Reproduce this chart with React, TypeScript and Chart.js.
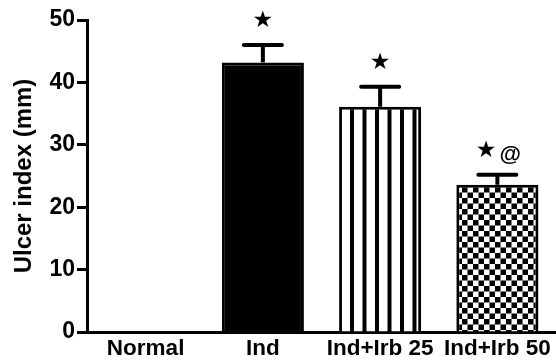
import React, { useEffect, useRef } from "react";
import { Chart, registerables } from "chart.js";

Chart.register(...registerables);

const categories = ["Normal", "Ind", "Ind+Irb 25", "Ind+Irb 50"];
const means = [0, 43.2, 36.1, 23.6];
const sems = [0, 2.8, 3.2, 1.6];
const starMarks = ["", "★", "★", "★"];
const extraMarks = ["", "", "", "@"];
const yTicks = [0, 10, 20, 30, 40, 50];
const yTitle = "Ulcer index (mm)";

const FONT = "'Liberation Sans', Arial, sans-serif";

function stripePattern(): CanvasPattern | string {
  const c = document.createElement("canvas");
  c.width = 25;
  c.height = 10;
  const g = c.getContext("2d")!;
  g.fillStyle = "#fff";
  g.fillRect(0, 0, 25, 10);
  g.fillStyle = "#000";
  g.fillRect(0, 0, 4, 10);
  g.fillRect(12.5, 0, 4, 10);
  const ctx = document.createElement("canvas").getContext("2d")!;
  return ctx.createPattern(c, "repeat") || "#fff";
}

function checkerPattern(): CanvasPattern | string {
  const s = 5.5;
  const c = document.createElement("canvas");
  c.width = 11;
  c.height = 11;
  const g = c.getContext("2d")!;
  g.fillStyle = "#fff";
  g.fillRect(0, 0, 11, 11);
  g.fillStyle = "#000";
  g.fillRect(0, 0, s, s);
  g.fillRect(s, s, s, s);
  const ctx = document.createElement("canvas").getContext("2d")!;
  return ctx.createPattern(c, "repeat") || "#fff";
}

const errorBarPlugin = {
  id: "errorBars",
  afterDatasetsDraw(chart: any) {
    const ctx = chart.ctx;
    const meta = chart.getDatasetMeta(0);
    const y = chart.scales.y;
    ctx.save();
    meta.data.forEach((bar: any, i: number) => {
      const x = bar.x;
      const yBar = y.getPixelForValue(means[i]);
      const yTop = y.getPixelForValue(means[i] + sems[i]);
      if (sems[i] > 0) {
        ctx.strokeStyle = "#000";
        ctx.lineWidth = 4;
        ctx.lineCap = "butt";
        ctx.beginPath();
        ctx.moveTo(x, yBar);
        ctx.lineTo(x, yTop);
        ctx.stroke();
        ctx.lineCap = "round";
        ctx.beginPath();
        ctx.moveTo(x - 19, yTop);
        ctx.lineTo(x + 19, yTop);
        ctx.stroke();
      }
      const star = starMarks[i];
      const extra = extraMarks[i];
      if (star || extra) {
        ctx.textBaseline = "alphabetic";
        ctx.textAlign = "left";
        ctx.font = "23px 'DejaVu Sans'";
        const sw = ctx.measureText(star).width;
        ctx.font = `bold 22px ${FONT}`;
        const ew = extra ? ctx.measureText(extra).width + 3 : 0;
        const total = sw + ew;
        const sx = x - total / 2 + (extra ? 1 : 0);
        const base = yTop - 18;
        ctx.fillStyle = "#000";
        ctx.font = "23px 'DejaVu Sans'";
        ctx.fillText(star, sx, base);
        if (extra) {
          ctx.font = `bold 22px ${FONT}`;
          ctx.fillText(extra, sx + sw + 3, base + 4);
        }
      }
    });
    ctx.restore();
  },
};

export default function App() {
  const ref = useRef<HTMLCanvasElement | null>(null);

  useEffect(() => {
    if (!ref.current) return;
    const bg = ["#fff", "#000", stripePattern(), checkerPattern()];
    const chart = new Chart(ref.current, {
      type: "bar",
      data: {
        labels: categories,
        datasets: [
          {
            data: means,
            backgroundColor: bg as any,
            borderColor: "#000",
            borderWidth: 3,
            borderSkipped: "start",
            categoryPercentage: 1,
            barPercentage: 0.7,
          },
        ],
      },
      options: {
        animation: false,
        responsive: false,
        devicePixelRatio: 1,
        layout: { padding: { top: 20, right: 0, left: 0, bottom: 0 } },
        plugins: {
          legend: { display: false },
          tooltip: { enabled: false },
        },
        scales: {
          x: {
            grid: { display: true, drawOnChartArea: false, drawTicks: false },
            border: { display: true, color: "#000", width: 3 },
            ticks: {
              color: "#000",
              font: { family: FONT, size: 22.5, weight: "bold" },
              padding: 3,
              maxRotation: 0,
              autoSkip: false,
            },
            afterFit(scale: any) {
              scale.height = 28;
            },
          },
          y: {
            min: 0,
            max: 50,
            afterBuildTicks(scale: any) {
              scale.ticks = yTicks.map((v) => ({ value: v }));
            },
            grid: {
              drawOnChartArea: false,
              drawTicks: true,
              tickLength: 10,
              tickWidth: 3,
              tickColor: "#000",
            },
            border: { display: true, color: "#000", width: 3 },
            ticks: {
              color: "#000",
              font: { family: FONT, size: 23, weight: "bold" },
              padding: 2,
            },
            title: {
              display: true,
              text: yTitle,
              color: "#000",
              font: { family: FONT, size: 24, weight: "bold" },
              padding: { top: 10, bottom: 0 },
            },
            afterFit(scale: any) {
              scale.width = 87;
            },
          },
        },
      },
      plugins: [errorBarPlugin],
    });
    return () => chart.destroy();
  }, []);

  return (
    <div style={{ position: "fixed", left: 0, top: 0, width: 556, height: 360, background: "#fff" }}>
      <canvas ref={ref} width={556} height={360} style={{ width: 556, height: 360, display: "block" }} />
    </div>
  );
}
